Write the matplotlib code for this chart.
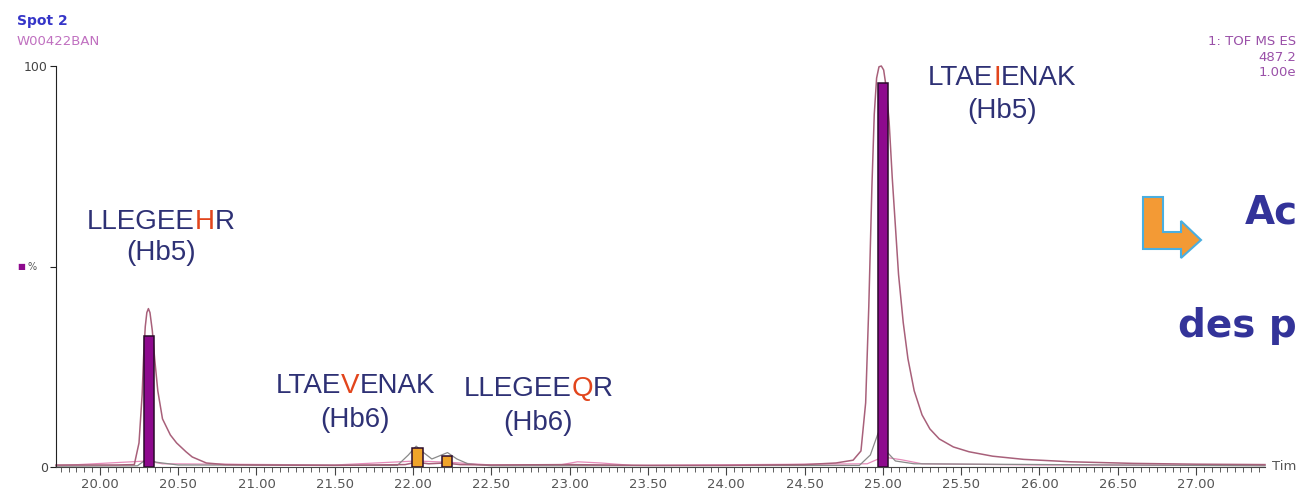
import matplotlib
matplotlib.use("Agg")
import matplotlib.pyplot as plt
from matplotlib import transforms
from matplotlib.patches import Polygon
from matplotlib.ticker import MultipleLocator

W, H = 1298, 492

# main trace (mauve): time (min) / relative intensity (%)
main_time = [19.72, 20.10, 20.22, 20.25, 20.27, 20.28, 20.29, 20.30, 20.31, 20.32,
             20.335, 20.35, 20.37, 20.40, 20.45, 20.49, 20.55, 20.59, 20.68, 20.80,
             21.00, 21.50, 21.95, 22.02, 22.10, 22.20, 22.30, 22.50, 23.00, 23.50,
             24.00, 24.50, 24.70, 24.81, 24.86, 24.89, 24.91, 24.93, 24.945, 24.96,
             24.975, 24.99, 25.005, 25.02, 25.04, 25.06, 25.08, 25.10, 25.13, 25.16,
             25.20, 25.25, 25.30, 25.36, 25.45, 25.55, 25.70, 25.90, 26.20, 26.60,
             27.00, 27.44]
main_int = [0.5, 0.5, 0.6, 6, 18, 28, 35, 38.5, 39.5, 38.5,
            34, 27, 19, 12, 8, 6, 3.8, 2.5, 1.0, 0.6,
            0.5, 0.4, 0.6, 1.2, 0.8, 1.0, 0.6, 0.5, 0.6, 0.4,
            0.4, 0.6, 1.0, 1.7, 4, 16, 40, 70, 88, 97,
            99.8, 100, 99, 95, 86, 72, 60, 48, 36, 27,
            19, 13, 9.5, 7, 5, 3.8, 2.7, 1.9, 1.3, 0.9,
            0.7, 0.6]

# secondary trace (grey)
grey_time = [19.72, 20.24, 20.30, 20.36, 20.50, 21.90, 21.97, 22.02, 22.07, 22.12,
             22.17, 22.22, 22.28, 22.35, 22.50, 24.85, 24.92, 24.97, 25.02, 25.08,
             25.20, 27.44]
grey_int = [0.2, 0.3, 2.0, 1.2, 0.5, 0.4, 3.0, 5.2, 3.5, 2.0,
            2.8, 3.6, 2.0, 0.8, 0.3, 0.4, 3.0, 8.5, 4.0, 1.5,
            0.8, 0.3]

# secondary trace (pink)
pink_time = [19.72, 20.30, 20.40, 21.50, 22.02, 22.22, 22.50, 22.95, 23.05, 23.20,
             23.40, 24.90, 25.00, 25.12, 25.25, 26.00, 27.44]
pink_int = [0.3, 1.5, 0.8, 0.5, 1.5, 1.2, 0.5, 0.6, 1.3, 1.0,
            0.4, 0.8, 2.5, 1.8, 0.8, 0.5, 0.4]

# identified peaks
bar_rt = [20.316, 22.028, 22.216, 25.00]
bar_height = [32.7, 4.7, 2.7, 95.8]
bar_color = ["#8E0A8E", "#F0A42A", "#F0A42A", "#8E0A8E"]

# peptide labels: (text part, highlighted?)
label_words = [
    [("LLEGEE", 0), ("H", 1), ("R", 0)],
    [("LTAE", 0), ("V", 1), ("ENAK", 0)],
    [("LLEGEE", 0), ("Q", 1), ("R", 0)],
    [("LTAE", 0), ("I", 1), ("ENAK", 0)],
]
label_hb = ["(Hb5)", "(Hb6)", "(Hb6)", "(Hb5)"]
label_x = [20.39, 21.63, 22.80, 25.76]
label_y = [59.4, 18.5, 17.7, 95.3]
label_hb_y = [51.6, 10.0, 9.2, 87.0]

NAVY = "#2E3175"
HIGHLIGHT = "#E2451C"


def px(x, y):
    return x / W, 1 - y / H


def colored_word(ax, x, y, parts, size=20):
    fig = ax.figure
    renderer = fig.canvas.get_renderer()
    pieces = []
    for s, hl in parts:
        t = ax.text(x, y, s, color=HIGHLIGHT if hl else NAVY, fontsize=size,
                    family="Liberation Sans", ha="left", va="baseline")
        pieces.append(t)
    widths = [t.get_window_extent(renderer).width for t in pieces]
    dx = -sum(widths) / 2
    for t, w in zip(pieces, widths):
        t.set_transform(transforms.offset_copy(ax.transData, fig=fig, x=dx, y=0, units="dots"))
        dx += w


fig = plt.figure(figsize=(W / 100, H / 100), dpi=100)
ax = fig.add_axes([56 / W, 25 / H, 1209 / W, 401 / H])

ax.plot(pink_time, pink_int, color="#E58AB8", linewidth=0.9, clip_on=False)
ax.plot(grey_time, grey_int, color="#8A8A8A", linewidth=0.9, clip_on=False)
ax.plot(main_time, main_int, color="#A8607A", linewidth=1.1, clip_on=False)
ax.bar(bar_rt, bar_height, width=0.065, color=bar_color, edgecolor="#2A0A2A",
       linewidth=1.1, zorder=3)

ax.set_xlim(19.72, 27.44)
ax.set_ylim(0, 100)
for side in ("top", "right"):
    ax.spines[side].set_visible(False)
ax.spines["left"].set_color("#222222")
ax.spines["bottom"].set_color("#444444")
ax.xaxis.set_minor_locator(MultipleLocator(0.05))
ax.set_xticks([20 + 0.5 * i for i in range(15)])
ax.xaxis.set_major_formatter(plt.FormatStrFormatter("%.2f"))
ax.tick_params(axis="x", which="major", length=6, color="#444444", labelsize=9.5,
               labelcolor="#555555", pad=2)
ax.tick_params(axis="x", which="minor", length=3.5, color="#444444")
ax.set_yticks([0, 50, 100])
ax.set_yticklabels(["0", "", "100"])
ax.tick_params(axis="y", length=4, color="#222222", labelsize=9, labelcolor="#444444", pad=2)

for words, hb, x, y, yh in zip(label_words, label_hb, label_x, label_y, label_hb_y):
    colored_word(ax, x, y, words)
    ax.text(x, yh, hb, color=NAVY, fontsize=20, family="Liberation Sans",
            ha="center", va="baseline")

# header texts
fig.text(*px(17, 25), "Spot 2", color="#3535C8", fontsize=10, fontweight="bold", va="baseline")
fig.text(*px(17, 45), "W00422BAN", color="#C070C0", fontsize=9.5, va="baseline")
fig.text(*px(1296, 45), "1: TOF MS ES", color="#9A50A8", fontsize=9.5, va="baseline", ha="right")
fig.text(*px(1296, 61), "487.2", color="#9A50A8", fontsize=9.5, va="baseline", ha="right")
fig.text(*px(1296, 76), "1.00e", color="#9A50A8", fontsize=9.5, va="baseline", ha="right")
fig.text(*px(17, 267), "\u25a0", color="#8E0A8E", fontsize=6, va="center")
fig.text(*px(28, 267), "%", color="#555555", fontsize=7, va="center")
fig.text(*px(1272, 467), "Tim", color="#555555", fontsize=9.5, va="center")

# orange arrow and comment text
arrow_pts = [(1143, 197), (1163, 197), (1163, 232), (1181, 232), (1181, 221),
             (1201, 240), (1181, 258), (1181, 249), (1143, 249)]
fig.patches.append(Polygon([px(x, y) for x, y in arrow_pts], closed=True,
                           transform=fig.transFigure, facecolor="#F39A35",
                           edgecolor="#4AAEE0", linewidth=1.5))
fig.text(*px(1245, 224), "Ac", color="#333399", fontsize=28, fontweight="bold",
         va="baseline")
fig.text(*px(1178, 337), "des p", color="#333399", fontsize=28, fontweight="bold",
         va="baseline")

fig.savefig("out.png", dpi=100)
